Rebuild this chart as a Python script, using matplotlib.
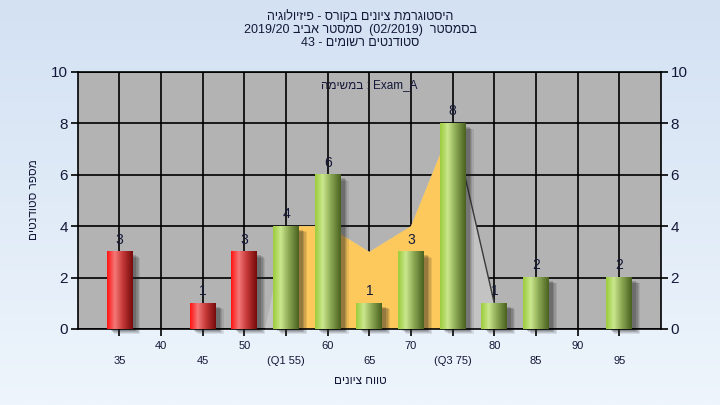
import re
import numpy as np
import matplotlib
matplotlib.use("Agg")
import matplotlib.pyplot as plt
from matplotlib.colors import LinearSegmentedColormap
from matplotlib.patches import Rectangle, Polygon

plt.rcParams['font.family'] = ['Liberation Sans', 'DejaVu Sans']

# ---------------- data ----------------
categories = [35, 40, 45, 50, 55, 60, 65, 70, 75, 80, 85, 90, 95]
counts = [3, 0, 1, 3, 4, 6, 1, 3, 8, 1, 2, 0, 2]
tick_labels = ['35', '40', '45', '50', '(Q1 55)', '60', '65', '70', '(Q3 75)', '80', '85', '90', '95']
pass_from = 55

# interquartile area (yellow) and background area (light grey)
iqr_x = [55, 60, 65, 70, 75]
iqr_y = [4, 4, 3, 4, 8]
bg_area_x = [52.5, 55, 60, 65, 70, 75, 80]
bg_area_y = [0, 4, 4, 3, 4, 8, 1]

title_lines = ["היסטוגרמת ציונים בקורס - פיזיולוגיה",
               "בסמסטר  (02/2019)  סמסטר אביב 2019/20",
               "סטודנטים רשומים - 43"]
exam_word = "במשימה"
exam_name = "Exam_A"
x_title = "טווח ציונים"
y_title = "מספר סטודנטים"


def rtl(s):
    r = s[::-1]
    r = r.translate(str.maketrans("()", ")("))
    return re.sub(r"[0-9A-Za-z_/.:]+", lambda m: m.group(0)[::-1], r)


# ---------------- figure ----------------
fig = plt.figure(figsize=(7.2, 4.05), dpi=100)

bgax = fig.add_axes([0, 0, 1, 1], zorder=-10)
top = np.array([211, 225, 243]) / 255
bot = np.array([238, 245, 252]) / 255
t = np.linspace(0, 1, 200)[:, None]
grad = (top * (1 - t) + bot * t)[:, None, :]
bgax.imshow(grad, aspect='auto', extent=[0, 1, 0, 1])
bgax.axis('off')

ax = fig.add_axes([0.108, 0.1877, 0.81, 0.6346])
ax.set_facecolor('#b3b3b3')
ax.set_axisbelow(True)

# areas
ax.add_patch(Polygon(list(zip(bg_area_x, bg_area_y)) + [(bg_area_x[-1], 0)],
                     closed=True, facecolor='#c3c3c3', edgecolor='none', zorder=1))
ax.plot(bg_area_x[-2:], bg_area_y[-2:], color='#3a3a3a', lw=1.0, zorder=1.2)
ax.add_patch(Polygon(list(zip(iqr_x, iqr_y)) + [(iqr_x[-1], 0), (iqr_x[0], 0)],
                     closed=True, facecolor='#fec95c', edgecolor='none', zorder=1.5))

red_cmap = LinearSegmentedColormap.from_list(
    'r', [(0, '#ff1414'), (0.3, '#f47878'), (0.6, '#c83a3a'), (1, '#760a0a')])
green_cmap = LinearSegmentedColormap.from_list(
    'g', [(0, '#9ccc3c'), (0.3, '#cae78e'), (0.6, '#8daa55'), (1, '#4a6220')])

width = 3.1
gvals = np.linspace(0, 1, 64)[None, :]
for x, h in zip(categories, counts):
    if h <= 0:
        continue
    cmap = red_cmap if x < pass_from else green_cmap
    # shadow
    for k, a in enumerate([0.10, 0.12, 0.15, 0.2]):
        off = 0.95 - k * 0.15
        ax.add_patch(Rectangle((x - width / 2 + off, -0.18 + k * 0.03), width, h - 0.05,
                               facecolor='#202020', alpha=a, edgecolor='none',
                               zorder=2.5, clip_on=False))
    ax.imshow(gvals, cmap=cmap, aspect='auto',
              extent=[x - width / 2, x + width / 2, 0, h], zorder=3, interpolation='bilinear')
    ax.text(x, h + 0.2, str(h), ha='center', va='bottom', fontsize=10,
            color='#141838', zorder=4)

ax.set_xlim(30, 100)
ax.set_ylim(0, 10)

ax.set_xticks(categories)
ax.set_xticklabels([('\n' + lab) if i % 2 == 0 else lab for i, lab in enumerate(tick_labels)],
                   fontsize=8, linespacing=1.55)
ax.set_yticks(range(0, 11, 2))
ax.tick_params(axis='y', left=True, right=True, labelleft=True, labelright=True,
               labelsize=11, length=5, width=1.2, colors='black', labelcolor='#141838', pad=2)
ax.tick_params(axis='x', length=5, width=1.2, labelsize=8, pad=4, labelcolor='#141838')
ax.grid(True, color='black', lw=1.2)
for s in ax.spines.values():
    s.set_color('black')
    s.set_linewidth(1.2)

ax.text(0.5, 0.95, rtl(exam_word) + " : " + exam_name, transform=ax.transAxes,
        ha='center', va='center', fontsize=8.5, color='#141838', zorder=5)

fig.text(360 / 720, 1 - 17 / 405, rtl(title_lines[0]), ha='center', va='center', fontsize=9, color='#141838')
fig.text(360 / 720, 1 - 30 / 405, rtl(title_lines[1]), ha='center', va='center', fontsize=9, color='#141838')
fig.text(360 / 720, 1 - 43 / 405, rtl(title_lines[2]), ha='center', va='center', fontsize=9, color='#141838')

fig.text(360 / 720, 1 - 381 / 405, rtl(x_title), ha='center', va='center', fontsize=8.5, color='#141838')
fig.text(34 / 720, 1 - 200 / 405, rtl(y_title), ha='center', va='center', fontsize=8.5,
         rotation=90, color='#141838')

fig.savefig('out.png', dpi=100)
